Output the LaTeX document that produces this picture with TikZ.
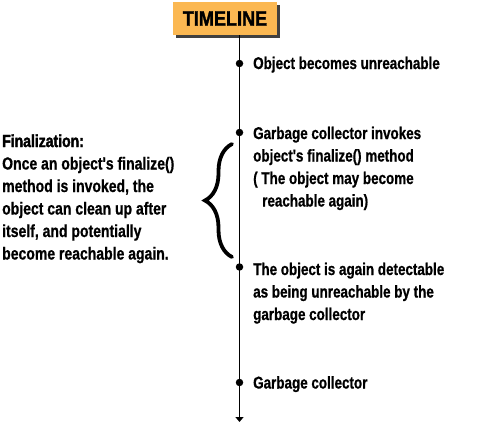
\documentclass[tikz,border=0pt]{standalone}
\usepackage{fontspec}
\newfontfamily\lblfont[FakeStretch=0.79,FakeBold=0.8]{Liberation Sans Bold}
\newfontfamily\leftfont[FakeStretch=0.80,FakeBold=0.8]{Liberation Sans Bold}
\newfontfamily\headfont[FakeStretch=0.80,FakeBold=2]{Liberation Sans Bold}
\newfontfamily\tlfont[FakeStretch=0.86,FakeBold=1.5]{Liberation Sans Bold}
\usetikzlibrary{arrows.meta,decorations.pathreplacing}
\definecolor{tlorange}{RGB}{251,184,82}
\begin{document}
\begin{tikzpicture}[x=1pt,y=-1pt,
  lbl/.style={anchor=base west, inner sep=0, align=left, font=\lblfont\fontsize{17}{22.5}\selectfont},
  lefttext/.style={anchor=base west, inner sep=0, align=left, font=\leftfont\fontsize{17.5}{22.5}\selectfont},
  dot/.style={circle, fill=black, inner sep=0, minimum size=7.5pt},
  timeline/.style={line width=1.3pt, -{Triangle[length=5pt,width=8pt]}},
  bracestyle/.style={line width=3.8pt, line cap=round, decorate, decoration={brace, amplitude=27pt, aspect=0.5}},
  tlbox/.style={fill=tlorange, minimum width=104pt, minimum height=33pt, inner sep=0, font=\tlfont\fontsize{21}{21}\selectfont}
]
\useasboundingbox (0,0) rectangle (481,424);
% title box with shadow
\fill[black!75] (176,5) rectangle (280,38);
\node[tlbox] (tl) at (225,18.5) {TIMELINE};
% timeline
\coordinate (start) at (239.5,35);
\coordinate (end) at (239.5,422);
\draw[timeline] (start) -- (end);
\node[dot] (b1) at (239.5,63.5) {};
\node[dot] (b2) at (239.5,132.5) {};
\node[dot] (b3) at (239.5,267) {};
\node[dot] (b4) at (239.5,382.5) {};
% labels (base anchor = baseline of the last line)
\node[lbl] (t1) at (253,69) {Object becomes unreachable};
\node[lbl] (t2) at (253,206.5) {Garbage collector invokes\\object's finalize() method\\( The object may become\\\hspace{9pt}reachable again)};
\node[lbl] (t3) at (253,320) {The object is again detectable\\as being unreachable by the\\garbage collector};
\node[lbl] (t4) at (253,388.5) {Garbage collector};
% left explanation
\node[lefttext] (fin) at (2,259.5) {{\headfont Finalization:}\\Once an object's finalize()\\method is invoked, the\\object can clean up after\\itself, and potentially\\become reachable again.};
% brace
\coordinate (bbot) at (232,257);
\coordinate (btop) at (232,144);
\draw[bracestyle] (bbot) -- (btop);
\end{tikzpicture}
\end{document}
